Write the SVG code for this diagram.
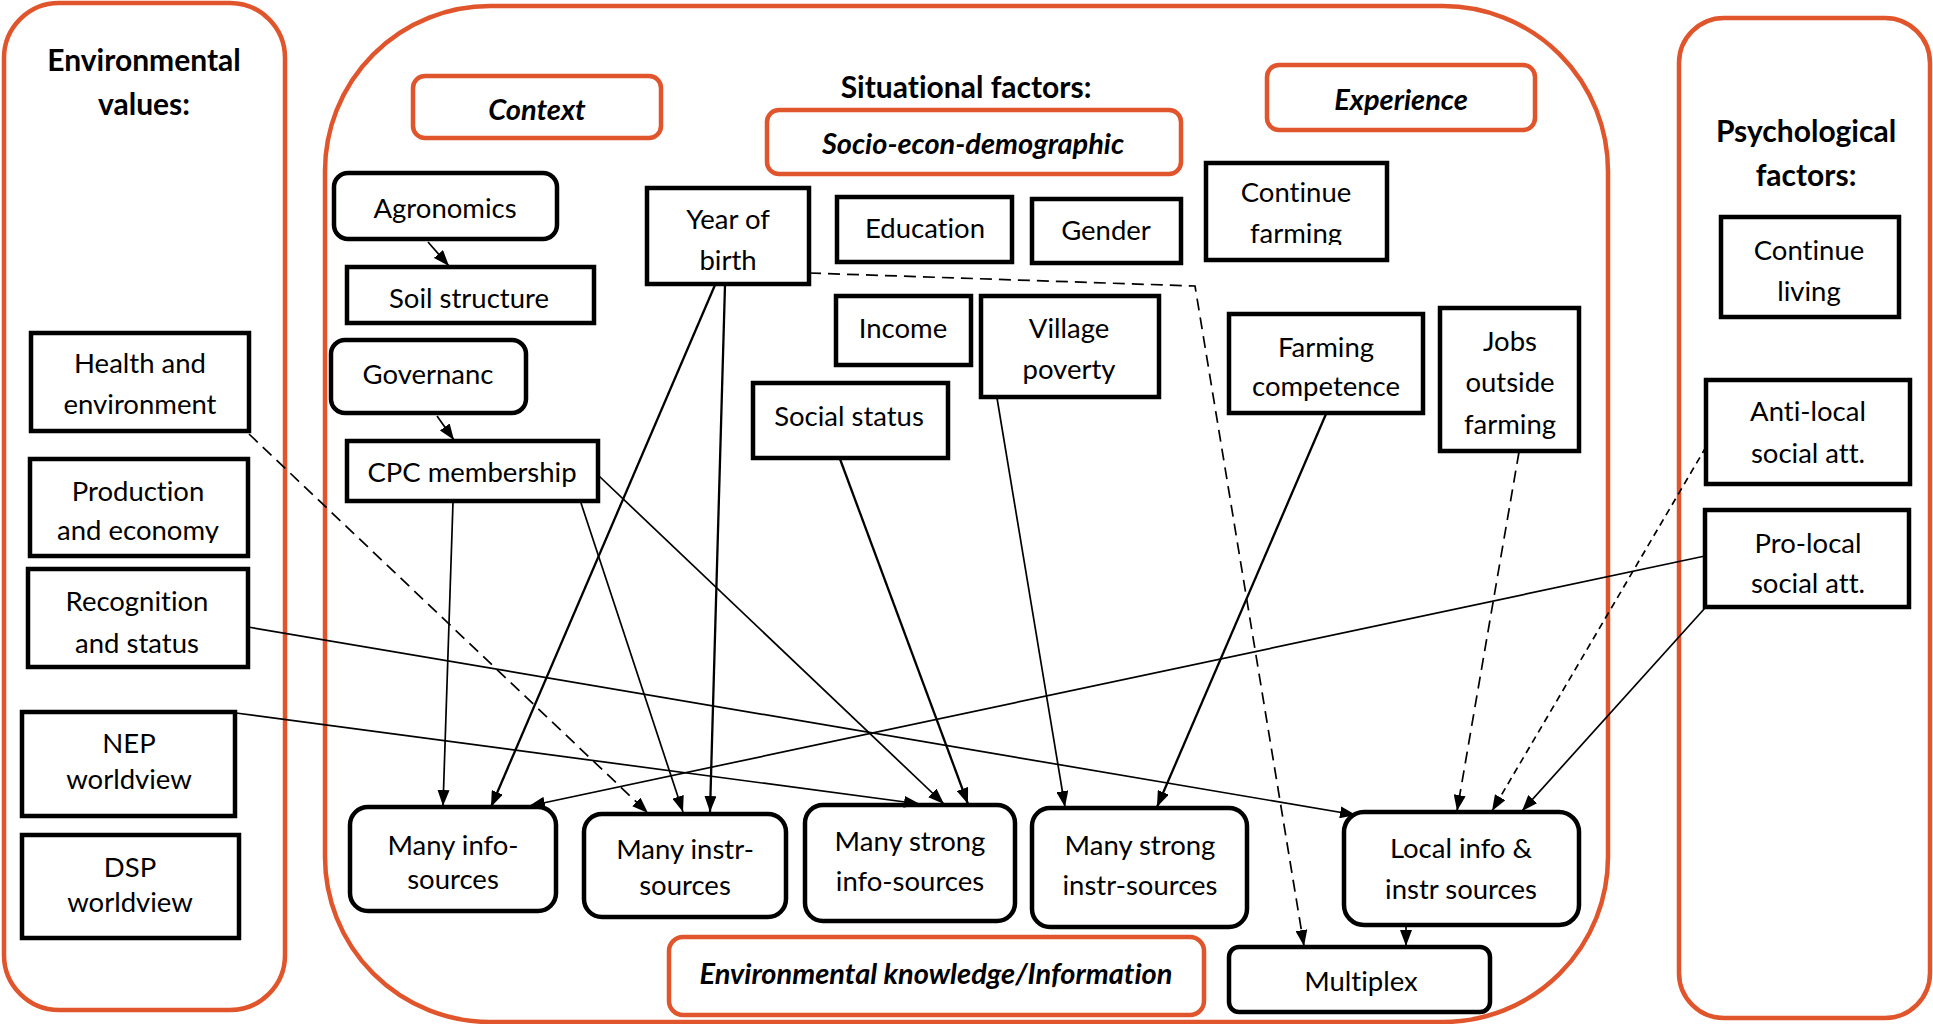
<svg xmlns="http://www.w3.org/2000/svg" width="1933" height="1024" viewBox="0 0 1933 1024">
<style>
text{font-variant-ligatures:none;font-feature-settings:"liga" 0}
.panel{fill:none;stroke:#E0552B;stroke-width:4.5}
.obox{fill:#fff;stroke:#E0552B;stroke-width:4.5}
.box{fill:#fff;stroke:#000;stroke-width:4.5}
.t{font-family:Lato,"Liberation Sans",sans-serif;font-size:27.5px;fill:#000;text-anchor:middle}
.h{font-family:Lato,"Liberation Sans",sans-serif;font-size:30px;font-weight:bold;fill:#000;text-anchor:middle}
.oi{font-family:Lato,"Liberation Sans",sans-serif;font-size:29px;font-weight:bold;font-style:italic;fill:#000;text-anchor:middle}
.c{fill:none;stroke:#000;stroke-width:1.7}
.ck{fill:none;stroke:#000;stroke-width:2.3}
.d1{stroke-dasharray:12 7}
.d2{stroke-dasharray:7 5}
</style>
<defs>
<marker id="ah" viewBox="0 0 16 12" refX="16" refY="6" markerWidth="16" markerHeight="12" markerUnits="userSpaceOnUse" orient="auto">
<path d="M0,0 L16,6 L0,12 z" fill="#000"/>
</marker>
<clipPath id="cf"><rect x="1206" y="163" width="181" height="82"/></clipPath>
<clipPath id="cp"><rect x="30" y="459" width="218" height="84"/></clipPath>
</defs>
<rect width="1933" height="1024" fill="#fff"/>

<g id="panels">
<rect id="panel-env" class="panel" x="4" y="3" width="281" height="1007" rx="55"/>
<rect id="panel-sit" class="panel" x="325" y="6" width="1283" height="1016" rx="165"/>
<rect id="panel-psy" class="panel" x="1679" y="18" width="251" height="1000" rx="45"/>
</g>

<g id="headers">
<text class="h" x="144" y="71">Environmental</text>
<text class="h" x="144" y="115">values:</text>
<text class="h" x="966" y="98">Situational factors:</text>
<text class="h" x="1806" y="142">Psychological</text>
<text class="h" x="1806" y="186">factors:</text>
</g>

<g id="context"><rect class="obox" x="413" y="76" width="248" height="62" rx="12"/><text class="oi" x="537" y="120">Context</text></g>
<g id="socio"><rect class="obox" x="767" y="110" width="414" height="64" rx="12"/><text class="oi" x="973" y="154">Socio-econ-demographic</text></g>
<g id="experience"><rect class="obox" x="1267" y="65" width="268" height="65" rx="12"/><text class="oi" x="1401" y="110">Experience</text></g>
<g id="envknow"><rect class="obox" x="669" y="937" width="535" height="78" rx="14"/><text class="oi" x="936" y="984">Environmental knowledge/Information</text></g>

<g id="agronomics"><rect class="box" x="334" y="173" width="223" height="66" rx="14"/><text class="t" x="445" y="218">Agronomics</text></g>
<g id="soil"><rect class="box" x="347" y="267" width="247" height="56"/><text class="t" x="469" y="308">Soil structure</text></g>
<g id="governanc"><rect class="box" x="331" y="340" width="195" height="73" rx="14"/><text class="t" x="428" y="384">Governanc</text></g>
<g id="cpc"><rect class="box" x="347" y="441" width="251" height="60"/><text class="t" x="472" y="482">CPC membership</text></g>
<g id="yob"><rect class="box" x="647" y="188" width="162" height="96"/><text class="t" x="728" y="229">Year of</text><text class="t" x="728" y="270">birth</text></g>
<g id="education"><rect class="box" x="837" y="197" width="175" height="65"/><text class="t" x="925" y="238">Education</text></g>
<g id="gender"><rect class="box" x="1032" y="199" width="149" height="64"/><text class="t" x="1106" y="240">Gender</text></g>
<g id="contfarm"><rect class="box" x="1206" y="163" width="181" height="97"/><g clip-path="url(#cf)"><text class="t" x="1296" y="202">Continue</text><text class="t" x="1296" y="243">farming</text></g></g>
<g id="income"><rect class="box" x="836" y="296" width="135" height="69"/><text class="t" x="903" y="338">Income</text></g>
<g id="village"><rect class="box" x="981" y="296" width="178" height="101"/><text class="t" x="1069" y="338">Village</text><text class="t" x="1069" y="379">poverty</text></g>
<g id="social"><rect class="box" x="753" y="383" width="195" height="75"/><text class="t" x="849" y="426">Social status</text></g>
<g id="farmcomp"><rect class="box" x="1229" y="314" width="194" height="99"/><text class="t" x="1326" y="357">Farming</text><text class="t" x="1326" y="396">competence</text></g>
<g id="jobs"><rect class="box" x="1440" y="308" width="139" height="143"/><text class="t" x="1510" y="351">Jobs</text><text class="t" x="1510" y="392">outside</text><text class="t" x="1510" y="434">farming</text></g>

<g id="health"><rect class="box" x="31" y="333" width="218" height="98"/><text class="t" x="140" y="373">Health and</text><text class="t" x="140" y="414">environment</text></g>
<g id="production"><rect class="box" x="30" y="459" width="218" height="97"/><g clip-path="url(#cp)"><text class="t" x="138" y="501">Production</text><text class="t" x="138" y="540">and economy</text></g></g>
<g id="recognition"><rect class="box" x="28" y="569" width="220" height="98"/><text class="t" x="137" y="611">Recognition</text><text class="t" x="137" y="653">and status</text></g>
<g id="nep"><rect class="box" x="22" y="712" width="213" height="104"/><text class="t" x="129" y="753">NEP</text><text class="t" x="129" y="789">worldview</text></g>
<g id="dsp"><rect class="box" x="22" y="835" width="217" height="103"/><text class="t" x="130" y="877">DSP</text><text class="t" x="130" y="912">worldview</text></g>

<g id="contliving"><rect class="box" x="1721" y="217" width="178" height="100"/><text class="t" x="1809" y="260">Continue</text><text class="t" x="1809" y="301">living</text></g>
<g id="antilocal"><rect class="box" x="1706" y="380" width="204" height="104"/><text class="t" x="1808" y="421">Anti-local</text><text class="t" x="1808" y="463">social att.</text></g>
<g id="prolocal"><rect class="box" x="1705" y="510" width="204" height="97"/><text class="t" x="1808" y="553">Pro-local</text><text class="t" x="1808" y="593">social att.</text></g>

<g id="manyinfo"><rect class="box" x="350" y="807" width="206" height="104" rx="18"/><text class="t" x="453" y="855">Many info-</text><text class="t" x="453" y="889">sources</text></g>
<g id="manyinstr"><rect class="box" x="584" y="814" width="202" height="103" rx="18"/><text class="t" x="685" y="859">Many instr-</text><text class="t" x="685" y="895">sources</text></g>
<g id="strongInfo"><rect class="box" x="805" y="805" width="210" height="116" rx="18"/><text class="t" x="910" y="851">Many strong</text><text class="t" x="910" y="891">info-sources</text></g>
<g id="strongInstr"><rect class="box" x="1032" y="808" width="215" height="119" rx="18"/><text class="t" x="1140" y="855">Many strong</text><text class="t" x="1140" y="895">instr-sources</text></g>
<g id="localinfo"><rect class="box" x="1344" y="812" width="235" height="113" rx="20"/><text class="t" x="1461" y="858">Local info &amp;</text><text class="t" x="1461" y="899">instr sources</text></g>
<g id="multiplex"><rect class="box" x="1229" y="947" width="261" height="65" rx="10"/><text class="t" x="1361" y="991">Multiplex</text></g>

<g id="connectors">
<line class="c" x1="428" y1="242" x2="449" y2="266" marker-end="url(#ah)"/>
<line class="c" x1="437" y1="416" x2="454" y2="440" marker-end="url(#ah)"/>
<line class="c" x1="453" y1="502" x2="443" y2="806" marker-end="url(#ah)"/>
<line class="c" x1="581" y1="503" x2="683" y2="812" marker-end="url(#ah)"/>
<line class="c" x1="599" y1="476" x2="944" y2="804" marker-end="url(#ah)"/>
<line class="ck" x1="715" y1="285" x2="491" y2="807" marker-end="url(#ah)"/>
<line class="ck" x1="725" y1="285" x2="710" y2="812" marker-end="url(#ah)"/>
<polyline class="c d1" points="809,273 1195,286 1304,946" marker-end="url(#ah)"/>
<line class="ck" x1="840" y1="459" x2="968" y2="804" marker-end="url(#ah)"/>
<line class="c" x1="997" y1="398" x2="1065" y2="807" marker-end="url(#ah)"/>
<line class="ck" x1="1326" y1="414" x2="1157" y2="807" marker-end="url(#ah)"/>
<line class="c d1" x1="1519" y1="452" x2="1457" y2="811" marker-end="url(#ah)"/>
<line class="c d2" x1="1706" y1="447" x2="1492" y2="811" marker-end="url(#ah)"/>
<line class="c" x1="1705" y1="556" x2="529" y2="806" marker-end="url(#ah)"/>
<line class="c" x1="1705" y1="608" x2="1522" y2="811" marker-end="url(#ah)"/>
<line class="c d1" x1="249" y1="434" x2="648" y2="813" marker-end="url(#ah)"/>
<line class="c" x1="248" y1="627" x2="1356" y2="815" marker-end="url(#ah)"/>
<line class="c" x1="236" y1="713" x2="920" y2="804" marker-end="url(#ah)"/>
<line class="c" x1="1406" y1="927" x2="1406" y2="946" stroke-width="3" marker-end="url(#ah)"/>
</g>
</svg>
